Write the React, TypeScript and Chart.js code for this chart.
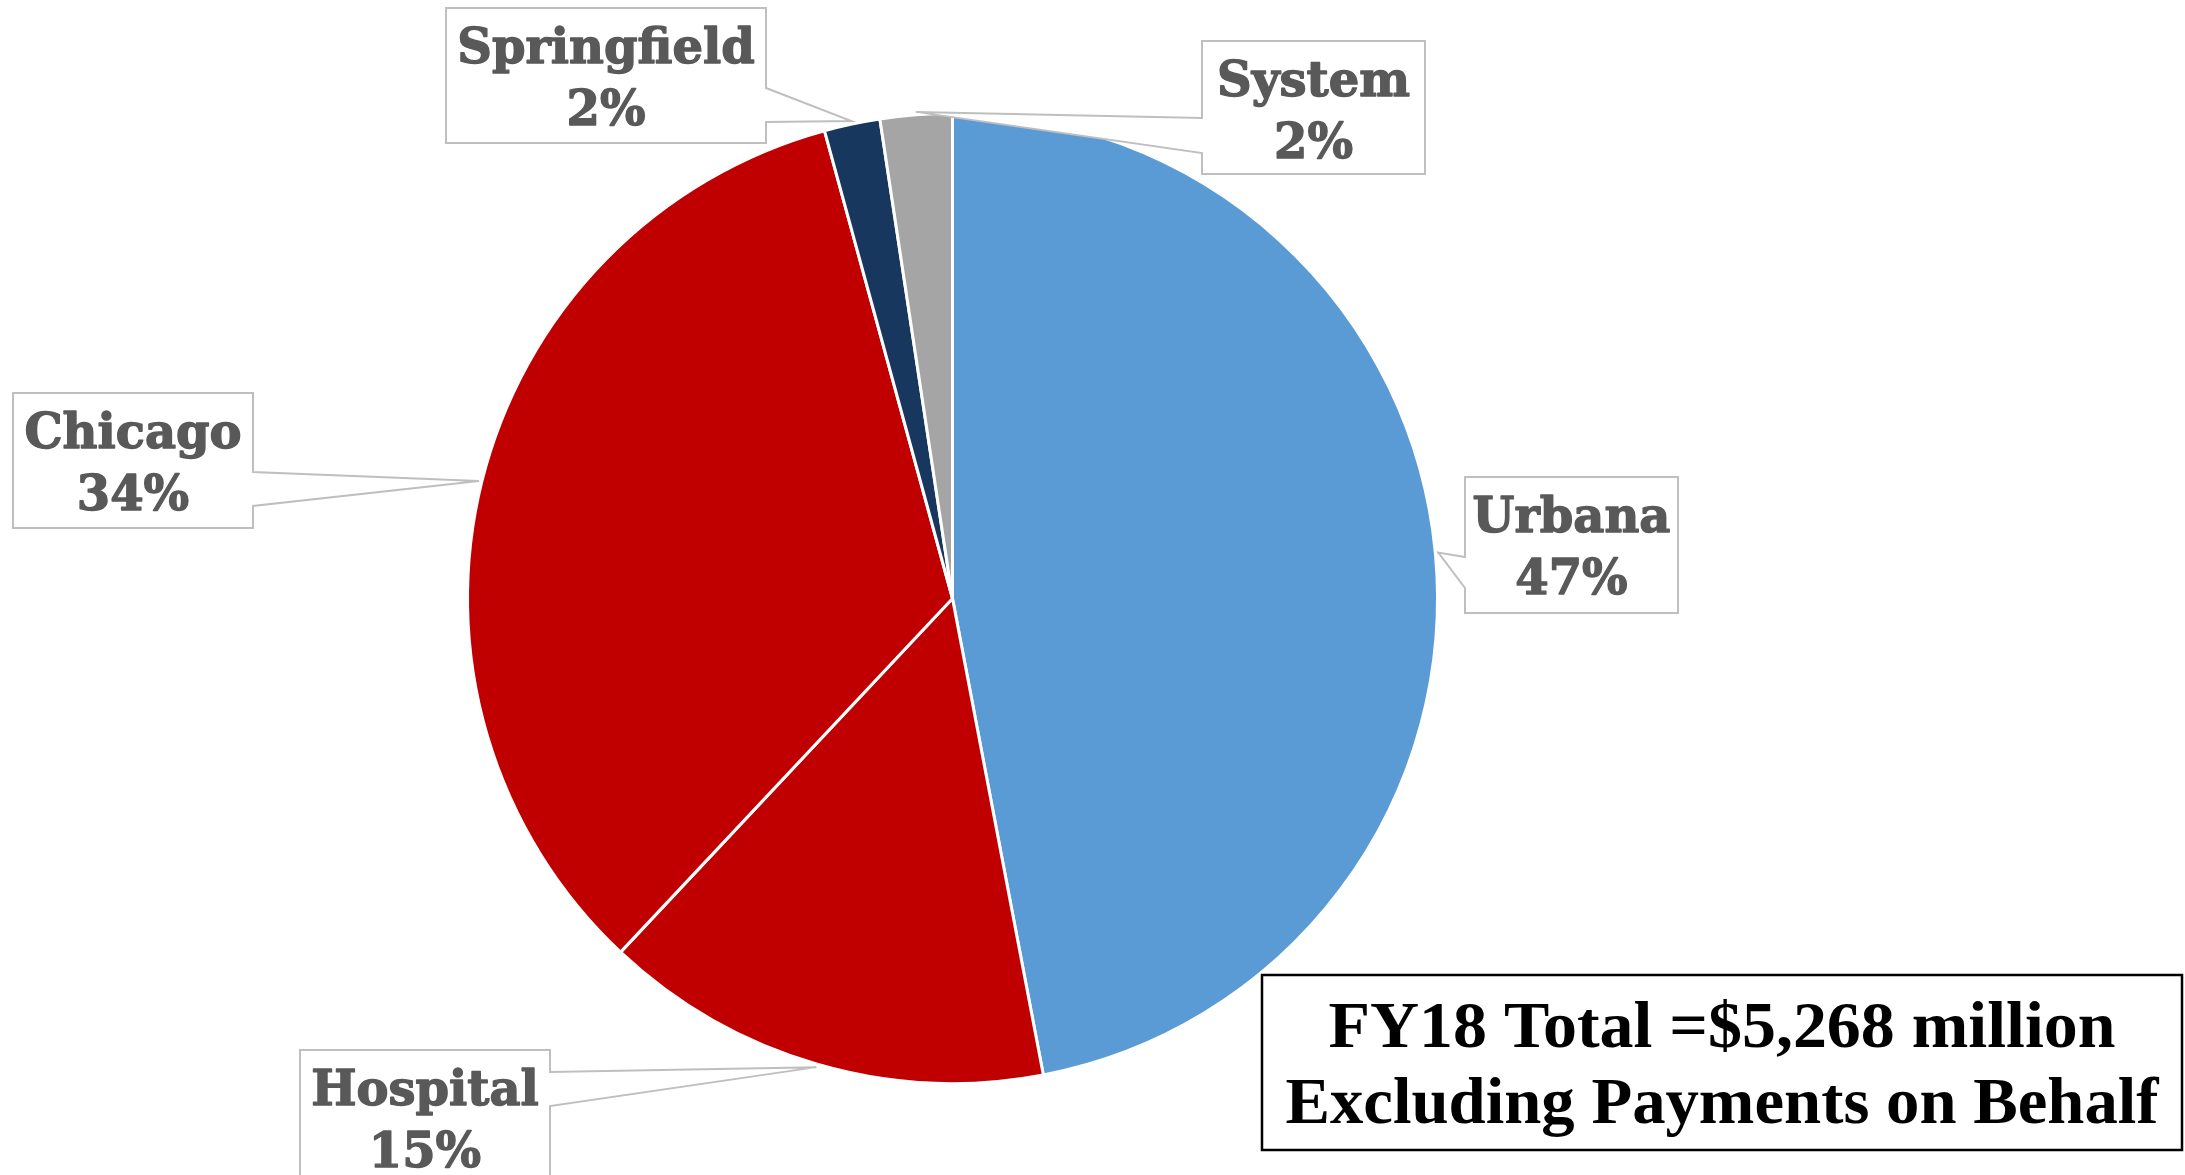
import React, { useEffect, useRef } from "react";
import { Chart, registerables } from "chart.js";

Chart.register(...registerables);

// ---- data ----
const categories = ["Urbana", "Hospital", "Chicago", "Springfield", "System"];
const values = [2476, 790, 1778, 98, 126]; // $ millions
const sliceColors = ["#5B9BD5", "#C00000", "#C00000", "#17375E", "#A5A5A5"];
const totalLines = ["FY18 Total =$5,268 million", "Excluding Payments on Behalf"];

// ---- layout (callout boxes, pointer base on box side) ----
const calloutLayout = [
  { x: 1465, y: 477, w: 213, h: 136, side: "left", b1: 557, b2: 588 },
  { x: 300, y: 1050, w: 250, h: 136, side: "right", b1: 1072, b2: 1106 },
  { x: 13, y: 393, w: 240, h: 135, side: "right", b1: 472, b2: 506 },
  { x: 446, y: 8, w: 320, h: 135, side: "right", b1: 88, b2: 122 },
  { x: 1202, y: 41, w: 223, h: 133, side: "left", b1: 118, b2: 153 },
];
const totalBox = { x: 1262, y: 975, w: 920, h: 175 };
const totalTextWidths = [787, 873];

const W = 2185;
const H = 1175;

const calloutPlugin = {
  id: "callouts",
  afterDatasetsDraw(chart: any) {
    const ctx: CanvasRenderingContext2D = chart.ctx;
    const meta = chart.getDatasetMeta(0);
    const data = chart.data.datasets[0].data as number[];
    const total = data.reduce((a, b) => a + b, 0);
    meta.data.forEach((arc: any, i: number) => {
      const p = arc.getProps(["x", "y", "startAngle", "endAngle", "outerRadius"], true);
      const mid = (p.startAngle + p.endAngle) / 2;
      const r = p.outerRadius + 3;
      const tx = p.x + Math.cos(mid) * r;
      const ty = p.y + Math.sin(mid) * r;
      const L = calloutLayout[i];
      const x0 = L.x, y0 = L.y, x1 = L.x + L.w, y1 = L.y + L.h;
      ctx.save();
      ctx.beginPath();
      if (L.side === "right") {
        ctx.moveTo(x0, y0);
        ctx.lineTo(x1, y0);
        ctx.lineTo(x1, L.b1);
        ctx.lineTo(tx, ty);
        ctx.lineTo(x1, L.b2);
        ctx.lineTo(x1, y1);
        ctx.lineTo(x0, y1);
        ctx.closePath();
      } else {
        ctx.moveTo(x0, y0);
        ctx.lineTo(x1, y0);
        ctx.lineTo(x1, y1);
        ctx.lineTo(x0, y1);
        ctx.lineTo(x0, L.b2);
        ctx.lineTo(tx, ty);
        ctx.lineTo(x0, L.b1);
        ctx.closePath();
      }
      ctx.fillStyle = "#FFFFFF";
      ctx.fill();
      ctx.lineWidth = 2;
      ctx.strokeStyle = "#BFBFBF";
      ctx.lineJoin = "miter";
      ctx.stroke();

      const pct = Math.round((data[i] / total) * 100) + "%";
      ctx.fillStyle = "#595959";
      ctx.strokeStyle = "#595959";
      ctx.lineWidth = 1.4;
      ctx.lineJoin = "round";
      ctx.font = 'bold 48px "DejaVu Serif"';
      ctx.textAlign = "center";
      ctx.textBaseline = "alphabetic";
      const cx = (x0 + x1) / 2;
      const name = String(chart.data.labels[i]);
      ctx.fillText(name, cx, y0 + 55);
      ctx.strokeText(name, cx, y0 + 55);
      ctx.fillText(pct, cx, y0 + 117);
      ctx.strokeText(pct, cx, y0 + 117);
      ctx.restore();
    });

    // total box
    ctx.save();
    ctx.fillStyle = "#FFFFFF";
    ctx.fillRect(totalBox.x, totalBox.y, totalBox.w, totalBox.h);
    ctx.lineWidth = 2.5;
    ctx.strokeStyle = "#000000";
    ctx.strokeRect(totalBox.x, totalBox.y, totalBox.w, totalBox.h);
    ctx.fillStyle = "#000000";
    ctx.font = 'bold 66px "Liberation Serif"';
    ctx.textAlign = "center";
    ctx.textBaseline = "alphabetic";
    const baselines = [totalBox.y + 72, totalBox.y + 148];
    const cx = totalBox.x + totalBox.w / 2;
    totalLines.forEach((t, k) => {
      const m = ctx.measureText(t).width;
      const s = totalTextWidths[k] / m;
      ctx.save();
      ctx.translate(cx, baselines[k]);
      ctx.scale(s, 1);
      ctx.fillText(t, 0, 0);
      ctx.restore();
    });
    ctx.restore();
  },
};

export default function App() {
  const ref = useRef<HTMLCanvasElement | null>(null);
  useEffect(() => {
    if (!ref.current) return;
    const chart = new Chart(ref.current, {
      type: "pie",
      data: {
        labels: categories,
        datasets: [
          {
            data: values,
            backgroundColor: sliceColors,
            borderColor: "#FFFFFF",
            borderWidth: 3,
            hoverOffset: 0,
            offset: 0,
          },
        ],
      },
      options: {
        responsive: false,
        animation: false,
        layout: { padding: { top: 112, bottom: 90, left: 466, right: 746 } },
        plugins: {
          legend: { display: false },
          tooltip: { enabled: false },
        },
      },
      plugins: [calloutPlugin],
    });
    return () => chart.destroy();
  }, []);
  return (
    <div style={{ position: "absolute", left: 0, top: 0, width: W, height: H, background: "#FFFFFF" }}>
      <canvas ref={ref} width={W} height={H} style={{ display: "block", width: W, height: H }} />
    </div>
  );
}
